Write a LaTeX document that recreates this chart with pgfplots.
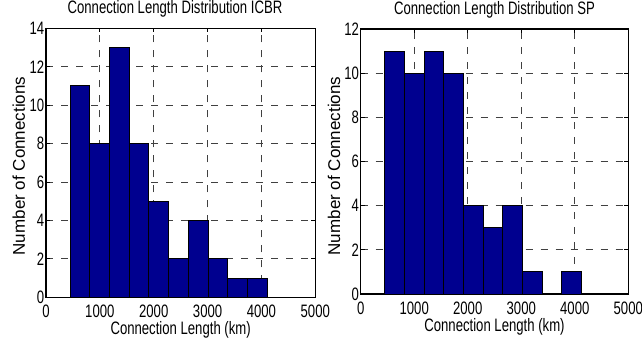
\documentclass[border=0pt]{standalone}
\usepackage{fontspec}
\setmainfont{Liberation Sans}[FakeStretch=0.73]
\newfontfamily\ylabfont{Liberation Sans}
\usepackage{pgfplots}
\pgfplotsset{compat=1.18}
\definecolor{barblue}{RGB}{0,0,143}
\pgfplotsset{
  myhist/.style={
    scale only axis,
    font=\fontsize{18bp}{21bp}\selectfont,
    /pgf/number format/assume math mode=true,
    /pgf/number format/1000 sep={},
    xmin=0, xmax=5000, ymin=0,
    xtick={0,1000,2000,3000,4000,5000},
    grid=major,
    major grid style={draw=black!75, line width=1bp, dash pattern=on 7bp off 8bp},
    axis line style={line width=1.2bp, black},
    tick align=inside,
    major tick length=4bp,
    tick style={line width=0.9bp, black},
    xticklabel style={anchor=base, yshift=-20.5bp, inner sep=0pt},
    yticklabel style={anchor=east, inner sep=0pt, xshift=-1.5bp},
    xlabel={Connection Length (km)},
    ylabel={\ylabfont\fontsize{17bp}{20bp}\selectfont Number of Connections},
  },
  barstyle/.style={ybar interval, fill=barblue, draw=black, line width=0.9bp},
}
\begin{document}
\begin{tikzpicture}
\useasboundingbox (0,0) rectangle (642bp,343bp);
\begin{axis}[myhist,
  at={(46bp,45.7bp)}, anchor=south west,
  width=269.3bp, height=269bp,
  ymax=14, ytick={0,2,4,6,8,10,12,14},
  title={Connection Length Distribution ICBR},
  title style={at={(axis description cs:0.479,1.031)}, anchor=base, inner sep=0pt},
  xlabel style={at={(axis description cs:0.5,-0.140)}, anchor=base, inner sep=0pt},
  ylabel style={at={(axis description cs:-0.078,0.488)}, anchor=base, inner sep=0pt},
]
\addplot[barstyle] coordinates {
(446,11) (812,8) (1178,13) (1544,8) (1910,5) (2276,2) (2642,4) (3008,2) (3374,1) (3740,1) (4106,0)
};
\end{axis}
\begin{axis}[myhist,
  at={(360.7bp,49bp)}, anchor=south west,
  width=267.6bp, height=265bp,
  ymax=12, ytick={0,2,4,6,8,10,12},
  title={Connection Length Distribution SP},
  title style={at={(axis description cs:0.5,1.034)}, anchor=base, inner sep=0pt},
  xlabel style={at={(axis description cs:0.5,-0.143)}, anchor=base, inner sep=0pt},
  ylabel style={at={(axis description cs:-0.077,0.483)}, anchor=base, inner sep=0pt},
]
\addplot[barstyle] coordinates {
(449,11) (816,10) (1183,11) (1551,10) (1918,4) (2285,3) (2652,4) (3019,1) (3387,0) (3754,1) (4121,0)
};
\end{axis}
\end{tikzpicture}
\end{document}
